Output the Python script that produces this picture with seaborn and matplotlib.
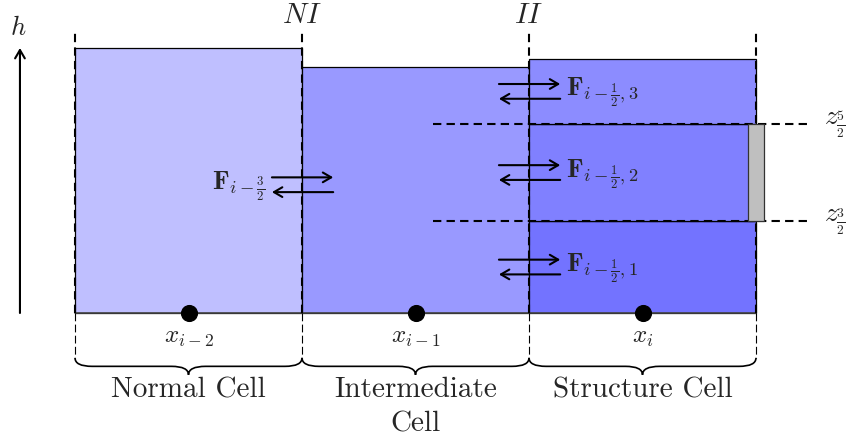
import numpy as np
import matplotlib.pyplot as plt
import seaborn as sns
from matplotlib.patches import Rectangle, PathPatch
from matplotlib.path import Path

sns.set_style("white")
plt.rcParams["mathtext.fontset"] = "cm"

# diagram data (units: cell width = 4)
cell_edges = [0, 4, 8, 12]
cell_heights = [4.67, 4.33, 4.48]
cell_colors = ["#bfbfff", "#9999ff", None]
cell_names = ["Normal Cell", "Intermediate\nCell", "Structure Cell"]
node_x = [2, 6, 10]
node_labels = [r"$x_{i-2}$", r"$x_{i-1}$", r"$x_{i}$"]
interface_labels = [r"$NI$", r"$II$"]

# structure cell layers
layer_z = [0, 1.62, 3.33, 4.48]
layer_colors = ["#7373ff", "#8080ff", "#8c8cff"]
layer_flux = [r"$\mathbf{F}_{i-\frac{1}{2},1}$", r"$\mathbf{F}_{i-\frac{1}{2},2}$",
              r"$\mathbf{F}_{i-\frac{1}{2},3}$"]
z_labels = [r"$z_{\frac{3}{2}}$", r"$z_{\frac{5}{2}}$"]
flux_ni = r"$\mathbf{F}_{i-\frac{3}{2}}$"

u = 56.75  # pixels per unit
fig = plt.figure(figsize=(8.55, 4.47), dpi=100)
ax = fig.add_axes([0, 0, 1, 1])
ax.set_xlim(-75 / u, (855 - 75) / u)
ax.set_ylim(-(447 - 313) / u, 313 / u)
ax.axis("off")

# cells
for i in range(2):
    ax.add_patch(Rectangle((cell_edges[i], 0), cell_edges[i + 1] - cell_edges[i], cell_heights[i],
                           facecolor=cell_colors[i], edgecolor="black", lw=0.9, zorder=1))
for k in range(3):
    ax.add_patch(Rectangle((cell_edges[2], layer_z[k]), 4, layer_z[k + 1] - layer_z[k],
                           facecolor=layer_colors[k], edgecolor="black", lw=0.9, zorder=1))
ax.plot([cell_edges[0], cell_edges[-1]], [0, 0], color="#444444", lw=1.2, zorder=2)

# dashed interfaces
for xe in cell_edges:
    ax.plot([xe, xe], [0, 4.95], color="black", lw=1.5, ls=(0, (4, 2.5)), zorder=4)
    ax.plot([xe, xe], [0, -0.79], color="black", lw=0.8, ls=(0, (7, 3)), zorder=4)
for z in layer_z[1:3]:
    ax.plot([6.31, 12.92], [z, z], color="black", lw=1.5, ls=(0, (4, 2.5)), zorder=2)

# structure (gray plate)
ax.add_patch(Rectangle((cell_edges[-1] - 0.14, layer_z[1]), 0.28, layer_z[2] - layer_z[1],
                       facecolor="#bfbfbf", edgecolor="#333333", lw=0.9, zorder=5))

for xe, lab in zip(cell_edges[1:3], interface_labels):
    ax.text(xe, 5.25, lab, ha="center", va="center", fontsize=21)

# nodes
sns.scatterplot(x=node_x, y=[0] * 3, s=130, color="black", edgecolor="black", ax=ax, zorder=5)
for xn, lab in zip(node_x, node_labels):
    ax.text(xn, -0.42, lab, ha="center", va="center", fontsize=18)


def brace(x0, x1, y0, d):
    xm = (x0 + x1) / 2
    q = 0.3
    verts = [(x0, y0), (x0, y0 - d / 2), (x0 + q, y0 - d / 2),
             (xm - q, y0 - d / 2), (xm, y0 - d / 2), (xm, y0 - d),
             (xm, y0 - d / 2), (xm + q, y0 - d / 2),
             (x1 - q, y0 - d / 2), (x1, y0 - d / 2), (x1, y0)]
    codes = [Path.MOVETO, Path.CURVE3, Path.CURVE3, Path.LINETO, Path.CURVE3, Path.CURVE3,
             Path.CURVE3, Path.CURVE3, Path.LINETO, Path.CURVE3, Path.CURVE3]
    ax.add_patch(PathPatch(Path(verts, codes), facecolor="none", edgecolor="black", lw=1.2))


for i, name in enumerate(cell_names):
    brace(cell_edges[i], cell_edges[i + 1], -0.79, 0.3)
    ax.text(node_x[i], -1.13, name, ha="center", va="top", fontsize=21,
            family="cmr10", linespacing=1.4)

# height axis
arrow_style = "->,head_length=0.6,head_width=0.35"
ax.annotate("", xy=(-0.97, cell_heights[0]), xytext=(-0.97, 0),
            arrowprops=dict(arrowstyle=arrow_style, lw=1.5, color="black",
                            shrinkA=0, shrinkB=0))
ax.text(-1.0, 5.02, r"$h$", ha="center", va="center", fontsize=19)


def flux_pair(x0, x1, ym):
    ax.annotate("", xy=(x1, ym + 0.13), xytext=(x0, ym + 0.13),
                arrowprops=dict(arrowstyle=arrow_style, lw=1.5,
                                color="black", shrinkA=0, shrinkB=0), zorder=6)
    ax.annotate("", xy=(x0, ym - 0.13), xytext=(x1, ym - 0.13),
                arrowprops=dict(arrowstyle=arrow_style, lw=1.5,
                                color="black", shrinkA=0, shrinkB=0), zorder=6)


flux_pair(3.47, 4.55, 2.26)
ax.text(3.36, 2.24, flux_ni, ha="right", va="center", fontsize=19)
for k in range(3):
    ym = (layer_z[k] + layer_z[k + 1]) / 2
    flux_pair(7.47, 8.55, ym)
    ax.text(8.65, ym - 0.02, layer_flux[k], ha="left", va="center", fontsize=19)

for z, lab in zip(layer_z[1:3], z_labels):
    ax.text(13.2, z - 0.02, lab, ha="left", va="center", fontsize=20)

fig.savefig("out.png", dpi=100)
